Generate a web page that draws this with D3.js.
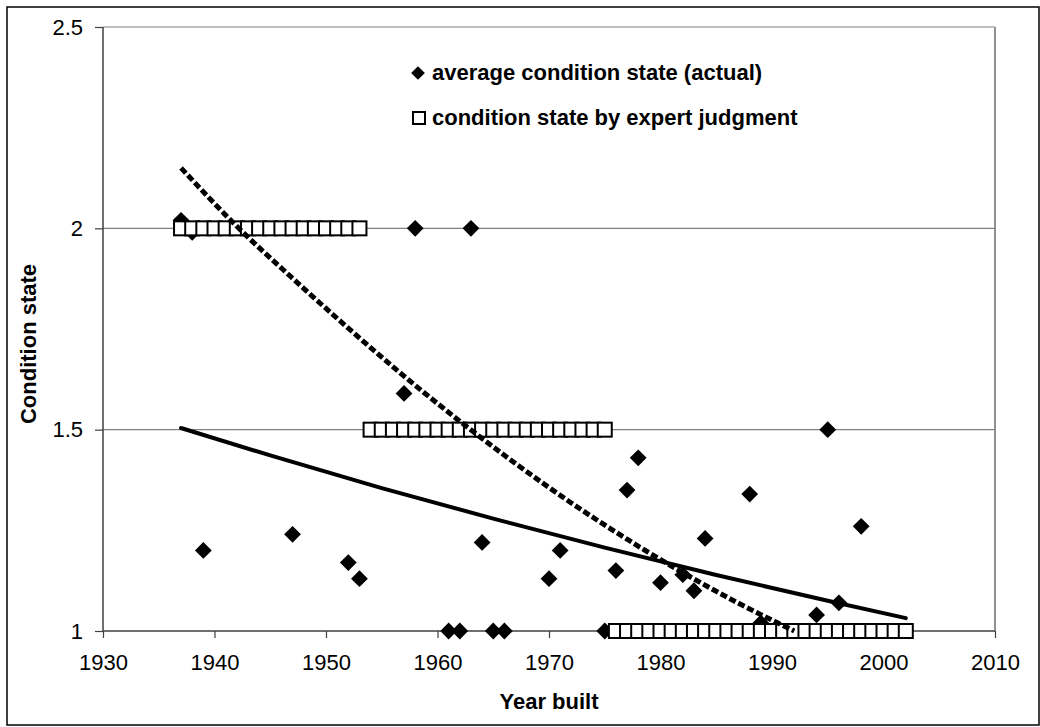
<!DOCTYPE html>
<html lang="en">
<head>
    <meta charset="UTF-8">
    <title>Condition state vs year built</title>
    <script src="https://d3js.org/d3.v7.min.js"></script>
    <style>
        body{
            margin:0;
            background-color: white;
        }
        text{
            font-family: Arial, "Liberation Sans", sans-serif;
        }
    </style>
</head>
<body>
    <script>
        // actual average condition state per year built
        const actualYears = [1937,1938,1939,1947,1952,1953,1957,1958,1961,1962,1963,1964,1965,1966,1970,
                             1971,1975,1976,1977,1978,1980,1982,1983,1984,1988,1989,1994,1995,1996,1998];
        const actualValues = [2.02,1.99,1.2,1.24,1.17,1.13,1.59,2.0,1.0,1.0,2.0,1.22,1.0,1.0,1.13,
                              1.2,1.0,1.15,1.35,1.43,1.12,1.14,1.1,1.23,1.34,1.02,1.04,1.5,1.07,1.26];

        // expert judgment, one marker per year
        const expertYears = [1937,1938,1939,1940,1941,1942,1943,1944,1945,1946,1947,1948,1949,1950,1951,1952,1953,
                             1954,1955,1956,1957,1958,1959,1960,1961,1962,1963,1964,1965,1966,1967,1968,1969,1970,1971,1972,1973,1974,1975,
                             1976,1977,1978,1979,1980,1981,1982,1983,1984,1985,1986,1987,1988,1989,1990,1991,1992,1993,1994,1995,1996,1997,1998,1999,2000,2001,2002];
        const expertValues = [2,2,2,2,2,2,2,2,2,2,2,2,2,2,2,2,2,
                              1.5,1.5,1.5,1.5,1.5,1.5,1.5,1.5,1.5,1.5,1.5,1.5,1.5,1.5,1.5,1.5,1.5,1.5,1.5,1.5,1.5,1.5,
                              1,1,1,1,1,1,1,1,1,1,1,1,1,1,1,1,1,1,1,1,1,1,1,1,1,1,1];

        // trend lines
        const expTrendYears = [1937,1945,1955,1965,1975,1985,1995,2002];
        const expTrendValues = [1.504,1.436,1.355,1.279,1.207,1.139,1.075,1.032];
        const polyTrendYears = [1937,1942,1947,1952,1957,1962,1967,1972,1977,1982,1987,1992];
        const polyTrendValues = [2.15,2.005,1.876,1.752,1.633,1.521,1.416,1.318,1.228,1.145,1.069,1.0];

        const xTicks = [1930,1940,1950,1960,1970,1980,1990,2000,2010];
        const yTicks = [1,1.5,2,2.5];

        const legendLabels = ["average condition state (actual)","condition state by expert judgment"];

        const w = 1040;
        const h = 727;
        const plot = {left:103,right:995,top:27,bottom:631};

        const svg = d3.select("body").append("svg").attr("width",w).attr("height",h);

        svg.append("rect").attr("x",7).attr("y",7).attr("width",w-8).attr("height",h-9)
            .attr("fill","white").attr("stroke","black").attr("stroke-width",1.5);

        const xScale = d3.scaleLinear().domain([1930,2010]).range([plot.left,plot.right]);
        const yScale = d3.scaleLinear().domain([1,2.5]).range([plot.bottom,plot.top]);

        // gridlines
        svg.append("g").selectAll("line")
            .data(yTicks.slice(1))
            .enter()
            .append("line")
            .attr("x1",plot.left).attr("x2",plot.right)
            .attr("y1",function(d){ return yScale(d); })
            .attr("y2",function(d){ return yScale(d); })
            .attr("stroke","#808080").attr("stroke-width",1.2);

        // right frame
        svg.append("line").attr("x1",plot.right).attr("x2",plot.right)
            .attr("y1",plot.top).attr("y2",plot.bottom)
            .attr("stroke","#909090").attr("stroke-width",2);

        const xAxis = d3.axisBottom(xScale).tickValues(xTicks).tickFormat(d3.format("d")).tickSize(7).tickPadding(16);
        const yAxis = d3.axisLeft(yScale).tickValues(yTicks).tickFormat(function(d){ return d; }).tickSize(8).tickPadding(12);

        const gx = svg.append("g").attr("transform","translate(0,"+plot.bottom+")").call(xAxis);
        const gy = svg.append("g").attr("transform","translate("+plot.left+",0)").call(yAxis);

        [gx,gy].forEach(function(g){
            g.select(".domain").attr("stroke","#404040").attr("stroke-width",1.5);
            g.selectAll(".tick line").attr("stroke","#404040").attr("stroke-width",1.2);
            g.selectAll(".tick text").attr("fill","black").style("font-size","22px")
                .style("font-family","Arial, 'Liberation Sans', sans-serif");
        });
        gx.select(".domain").attr("d","M"+plot.left+",0H"+plot.right);
        gy.select(".domain").attr("d","M0,"+plot.bottom+"V"+plot.top);

        // diamonds
        const diamond = d3.symbol().type(d3.symbolDiamond2).size(180);
        svg.append("g").selectAll("path")
            .data(actualYears)
            .enter()
            .append("path")
            .attr("d",diamond)
            .attr("transform",function(d,i){
                return "translate("+xScale(d)+","+yScale(actualValues[i])+")";
            })
            .attr("fill","black");

        // expert squares
        const sq = 14;
        svg.append("g").selectAll("rect")
            .data(expertYears)
            .enter()
            .append("rect")
            .attr("x",function(d){ return xScale(d) - sq/2; })
            .attr("y",function(d,i){ return yScale(expertValues[i]) - sq/2; })
            .attr("width",sq).attr("height",sq)
            .attr("fill","white").attr("stroke","black").attr("stroke-width",2);

        // trend lines
        const line = d3.line()
            .x(function(d){ return xScale(d[0]); })
            .y(function(d){ return yScale(d[1]); })
            .curve(d3.curveMonotoneX);

        svg.append("path")
            .attr("d",line(d3.zip(polyTrendYears,polyTrendValues)))
            .attr("fill","none").attr("stroke","black").attr("stroke-width",5)
            .attr("stroke-dasharray","7,3");

        svg.append("path")
            .attr("d",line(d3.zip(expTrendYears,expTrendValues)))
            .attr("fill","none").attr("stroke","black").attr("stroke-width",4)
            .attr("stroke-linecap","round");

        // legend
        const legend = svg.append("g");
        legend.append("path").attr("d",d3.symbol().type(d3.symbolDiamond2).size(120))
            .attr("transform","translate(418,73)").attr("fill","black");
        legend.append("rect").attr("x",413).attr("y",112).attr("width",12).attr("height",12)
            .attr("fill","white").attr("stroke","black").attr("stroke-width",2);
        legend.selectAll("text")
            .data(legendLabels)
            .enter()
            .append("text")
            .attr("x",432)
            .attr("y",function(d,i){ return 80 + i*45; })
            .style("font-size","22px").style("font-weight","bold")
            .text(function(d){ return d; });

        // axis titles
        svg.append("text").attr("x",549).attr("y",709).attr("text-anchor","middle")
            .style("font-size","22px").style("font-weight","bold").text("Year built");
        svg.append("text").attr("transform","translate(36,344) rotate(-90)").attr("text-anchor","middle")
            .style("font-size","22px").style("font-weight","bold").text("Condition state");
    </script>
</body>
</html>
